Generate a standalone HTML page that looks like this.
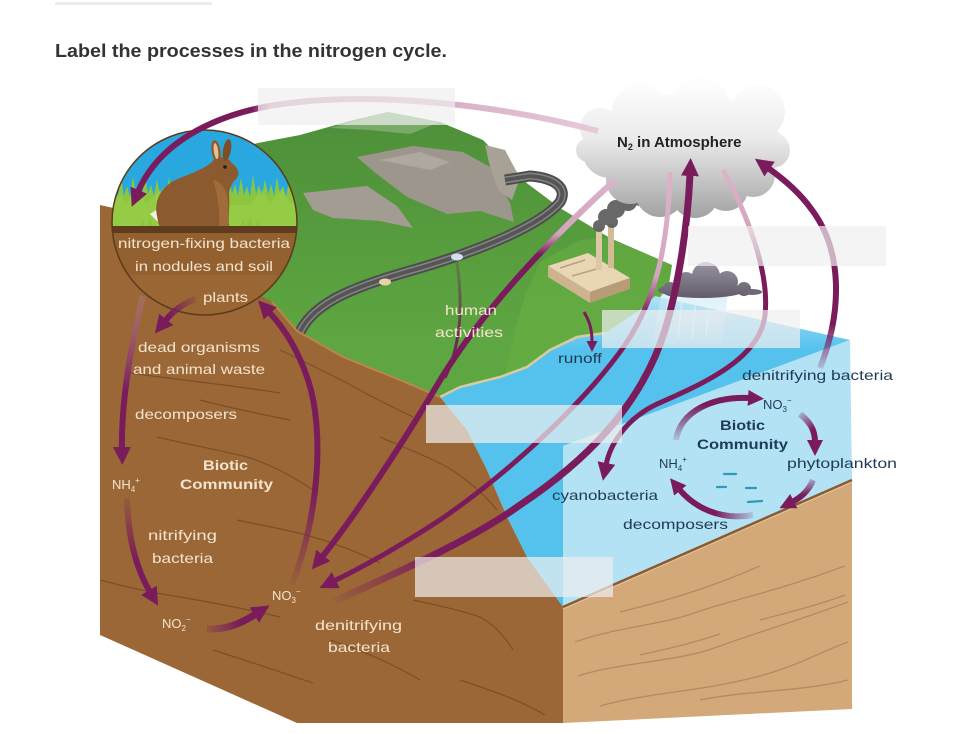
<!DOCTYPE html>
<html><head><meta charset="utf-8"><style>
html,body{margin:0;padding:0;background:#fff;}
svg{display:block;}
text{font-family:"Liberation Sans",Arial,sans-serif;}
</style></head><body>
<svg width="978" height="734" viewBox="0 0 978 734" xmlns="http://www.w3.org/2000/svg">
<defs>
 <marker id="ah" markerUnits="userSpaceOnUse" markerWidth="20" markerHeight="20" refX="2" refY="9" orient="auto"><path d="M0,0 L18,9 L0,18 Z" fill="#7a1c5c"/></marker>
 <marker id="ahm" markerUnits="userSpaceOnUse" markerWidth="18" markerHeight="18" refX="2" refY="8" orient="auto"><path d="M0,0 L16,8 L0,16 Z" fill="#7a1c5c"/></marker>
 <marker id="ahs" markerUnits="userSpaceOnUse" markerWidth="12" markerHeight="12" refX="1" refY="5.5" orient="auto"><path d="M0,0 L11,5.5 L0,11 Z" fill="#7a1c5c"/></marker>
 <clipPath id="circ"><circle cx="204.5" cy="222.5" r="92.5"/></clipPath>
 <linearGradient id="cloudG" gradientUnits="userSpaceOnUse" x1="0" y1="85" x2="0" y2="218">
  <stop offset="0" stop-color="#fdfdfd"/><stop offset="0.4" stop-color="#ebebeb"/><stop offset="1" stop-color="#a2a2a2"/>
 </linearGradient>
 <linearGradient id="rainC" gradientUnits="userSpaceOnUse" x1="0" y1="262" x2="0" y2="300">
  <stop offset="0" stop-color="#9a94a2"/><stop offset="1" stop-color="#5f5967"/>
 </linearGradient>
 <linearGradient id="rainF" gradientUnits="userSpaceOnUse" x1="0" y1="292" x2="0" y2="345">
  <stop offset="0" stop-color="#cfe9f5" stop-opacity="0.7"/><stop offset="1" stop-color="#cfe9f5" stop-opacity="0.1"/>
 </linearGradient>
 <linearGradient id="waterTop" gradientUnits="userSpaceOnUse" x1="0" y1="295" x2="0" y2="350">
  <stop offset="0" stop-color="#b3e2f5"/><stop offset="1" stop-color="#55c2ee"/>
 </linearGradient>
 <linearGradient id="hillG" gradientUnits="userSpaceOnUse" x1="0" y1="110" x2="0" y2="340">
  <stop offset="0" stop-color="#4d8f39"/><stop offset="1" stop-color="#5ea641"/>
 </linearGradient>
 <linearGradient id="g1" gradientUnits="userSpaceOnUse" x1="130" y1="0" x2="600" y2="0">
  <stop offset="0" stop-color="#7a1c5c"/><stop offset="0.26" stop-color="#7a1c5c"/><stop offset="0.3" stop-color="#c993b1"/><stop offset="1" stop-color="#e6cad9"/>
 </linearGradient>
 <linearGradient id="g2" gradientUnits="userSpaceOnUse" x1="196" y1="299" x2="170" y2="316">
  <stop offset="0" stop-color="#7a1c5c" stop-opacity="0.15"/><stop offset="1" stop-color="#7a1c5c"/>
 </linearGradient>
 <linearGradient id="g3" gradientUnits="userSpaceOnUse" x1="0" y1="296" x2="0" y2="390">
  <stop offset="0" stop-color="#b27a9a" stop-opacity="0.35"/><stop offset="1" stop-color="#7a1c5c"/>
 </linearGradient>
 <linearGradient id="g4" gradientUnits="userSpaceOnUse" x1="0" y1="498" x2="0" y2="560">
  <stop offset="0" stop-color="#7a1c5c" stop-opacity="0.15"/><stop offset="1" stop-color="#7a1c5c"/>
 </linearGradient>
 <linearGradient id="g5" gradientUnits="userSpaceOnUse" x1="207" y1="0" x2="240" y2="0">
  <stop offset="0" stop-color="#7a1c5c" stop-opacity="0.2"/><stop offset="1" stop-color="#7a1c5c"/>
 </linearGradient>
 <linearGradient id="g6" gradientUnits="userSpaceOnUse" x1="0" y1="584" x2="0" y2="490">
  <stop offset="0" stop-color="#7a1c5c" stop-opacity="0.1"/><stop offset="1" stop-color="#7a1c5c"/>
 </linearGradient>
 <linearGradient id="g7" gradientUnits="userSpaceOnUse" x1="0" y1="180" x2="0" y2="300">
  <stop offset="0" stop-color="#dcb4ca"/><stop offset="0.45" stop-color="#d2a3bd"/><stop offset="0.62" stop-color="#7a1c5c"/><stop offset="1" stop-color="#7a1c5c"/>
 </linearGradient>
 <linearGradient id="g7b" gradientUnits="userSpaceOnUse" x1="0" y1="262" x2="0" y2="340">
  <stop offset="0" stop-color="#6e3a50" stop-opacity="0.3"/><stop offset="1" stop-color="#6e2a50"/>
 </linearGradient>
 <linearGradient id="g8" gradientUnits="userSpaceOnUse" x1="0" y1="172" x2="0" y2="340">
  <stop offset="0" stop-color="#dcb4ca"/><stop offset="0.62" stop-color="#d3a6bf"/><stop offset="0.85" stop-color="#7a1c5c"/><stop offset="1" stop-color="#7a1c5c"/>
 </linearGradient>
 <linearGradient id="g9" gradientUnits="userSpaceOnUse" x1="335" y1="601" x2="440" y2="550">
  <stop offset="0" stop-color="#7a1c5c" stop-opacity="0.1"/><stop offset="1" stop-color="#7a1c5c"/>
 </linearGradient>
 <linearGradient id="g10" gradientUnits="userSpaceOnUse" x1="0" y1="170" x2="0" y2="262">
  <stop offset="0" stop-color="#dcb4ca"/><stop offset="0.6" stop-color="#d3a6bf"/><stop offset="1" stop-color="#7a1c5c"/>
 </linearGradient>
 <linearGradient id="g11" gradientUnits="userSpaceOnUse" x1="0" y1="372" x2="0" y2="325">
  <stop offset="0" stop-color="#7a1c5c" stop-opacity="0.1"/><stop offset="1" stop-color="#7a1c5c"/>
 </linearGradient>
 <linearGradient id="gb1" gradientUnits="userSpaceOnUse" x1="0" y1="442" x2="0" y2="405">
  <stop offset="0" stop-color="#7a1c5c" stop-opacity="0.1"/><stop offset="1" stop-color="#7a1c5c"/>
 </linearGradient>
 <linearGradient id="gb2" gradientUnits="userSpaceOnUse" x1="798" y1="412" x2="812" y2="430">
  <stop offset="0" stop-color="#7a1c5c" stop-opacity="0.15"/><stop offset="1" stop-color="#7a1c5c"/>
 </linearGradient>
 <linearGradient id="gb3" gradientUnits="userSpaceOnUse" x1="0" y1="476" x2="0" y2="495">
  <stop offset="0" stop-color="#7a1c5c" stop-opacity="0.15"/><stop offset="1" stop-color="#7a1c5c"/>
 </linearGradient>
 <linearGradient id="gb4" gradientUnits="userSpaceOnUse" x1="755" y1="0" x2="715" y2="0">
  <stop offset="0" stop-color="#7a1c5c" stop-opacity="0.1"/><stop offset="1" stop-color="#7a1c5c"/>
 </linearGradient>
</defs>

<rect width="978" height="734" fill="#fff"/>
<rect x="55" y="2" width="157" height="3" fill="#ececec"/>
<text x="55" y="57" font-size="18" font-weight="bold" fill="#333" textLength="392" lengthAdjust="spacingAndGlyphs">Label the processes in the nitrogen cycle.</text>

<!-- green land -->
<polygon points="230,150 258,143 300,135 350,121 388,112 440,122 483,140 520,178 560,208 610,238 672,265 668,290 640,315 605,333 577,337 550,350 527,367 500,377 460,387 440,397 400,380 343,357 300,335 270,305 230,300" fill="url(#hillG)"/>
<polygon points="330,128 388,112 440,122 410,134 370,130" fill="#8bb57c" opacity="0.7"/>
<polygon points="540,262 580,240 610,238 672,265 668,290 640,315 605,333 577,337 550,350 527,367 505,376 515,330 525,295" fill="#6cb445" opacity="0.45"/>
<!-- rocks -->
<polygon points="357,157 413,146 463,152 490,167 510,203 514,222 480,211 447,214 407,197 373,171" fill="#9d968c"/>
<polygon points="303,193 367,186 397,206 413,228 380,221 333,218 313,210" fill="#a39c92"/>
<polygon points="485,145 505,150 520,178 512,200 498,190 490,167" fill="#a8a196"/>
<polygon points="380,160 420,152 450,162 430,170" fill="#b5afa6" opacity="0.7"/>
<!-- road -->
<path d="M300,332 C315,300 360,285 420,268 C480,250 540,226 560,202 C568,188 555,178 530,176 L505,180" fill="none" stroke="#4d4d4d" stroke-width="11"/>
<path d="M300,332 C315,300 360,285 420,268 C480,250 540,226 560,202 C568,188 555,178 530,176 L505,180" fill="none" stroke="#858585" stroke-width="7"/>
<path d="M300,332 C315,300 360,285 420,268 C480,250 540,226 560,202 C568,188 555,178 530,176 L505,180" fill="none" stroke="#555" stroke-width="4"/>
<ellipse cx="385" cy="282" rx="6" ry="3.5" fill="#e8d3a8"/>
<ellipse cx="457" cy="257" rx="6" ry="3.5" fill="#cfe0ee"/>

<!-- water -->
<polygon points="440,397 460,387 500,377 527,367 550,350 577,337 605,333 640,310 655,296 850,340 563,446 563,607 527,557 507,517 487,470 467,430" fill="url(#waterTop)"/>
<polygon points="563,446 850,340 852,481 563,607" fill="#b3e2f5"/>
<path d="M440,397 L460,387 L500,377 L527,367 L550,350 L577,337 L605,333" fill="none" stroke="#d8cc9c" stroke-width="2.5"/>

<!-- factory -->
<polygon points="548,266 588,253 630,278 590,292" fill="#e8d6b4"/>
<polygon points="548,266 590,292 590,303 548,277" fill="#cdb48f"/>
<polygon points="590,292 630,278 630,289 590,303" fill="#b89c77"/>
<line x1="560" y1="268" x2="585" y2="260" stroke="#b8a27f" stroke-width="1.5"/>
<line x1="572" y1="276" x2="600" y2="268" stroke="#b8a27f" stroke-width="1.5"/>
<rect x="596" y="228" width="6" height="42" fill="#dcc8a4"/>
<rect x="608" y="224" width="6" height="44" fill="#d2bc96"/>
<!-- smoke -->
<g fill="#5c5c5c" opacity="0.92">
<circle cx="599" cy="226" r="6"/><circle cx="606" cy="217" r="8"/><circle cx="616" cy="209" r="9"/><circle cx="628" cy="202" r="9"/><circle cx="640" cy="198" r="8"/><circle cx="612" cy="222" r="6"/>
</g>
<!-- rain cloud + rain -->
<polygon points="662,292 728,292 722,345 652,345" fill="url(#rainF)"/>
<g stroke="#e4f3fa" stroke-width="1.2" opacity="0.7">
<line x1="668" y1="300" x2="664" y2="335"/><line x1="682" y1="300" x2="678" y2="338"/><line x1="696" y1="300" x2="692" y2="340"/><line x1="710" y1="300" x2="706" y2="336"/>
</g>
<g fill="url(#rainC)">
<ellipse cx="702" cy="290" rx="44" ry="8"/><circle cx="686" cy="283" r="11"/><circle cx="706" cy="276" r="14"/><circle cx="727" cy="282" r="11"/><circle cx="744" cy="289" r="7"/><circle cx="670" cy="289" r="7"/>
</g>
<ellipse cx="752" cy="292" rx="10" ry="3" fill="#6e6876"/>

<!-- right tan face -->
<polygon points="563,607 852,480 852,709 563,723" fill="#d4a979"/>
<g fill="none" stroke="#b3845a" stroke-width="1.3" opacity="0.85">
<path d="M575,642 C620,626 660,626 700,611 C740,598 780,590 845,566"/>
<path d="M578,676 C620,662 680,662 720,646 C770,628 800,620 848,602"/>
<path d="M600,706 C650,692 700,692 760,676 C800,665 820,652 848,642"/>
<path d="M620,612 C660,602 700,592 760,566"/>
<path d="M700,700 C750,690 800,692 848,680"/>
<path d="M640,655 C670,648 690,644 720,634"/>
<path d="M760,620 C790,612 815,606 845,595"/>
</g>
<line x1="563" y1="607" x2="852" y2="480" stroke="#8a5a32" stroke-width="2.5"/>
<line x1="563" y1="609" x2="852" y2="482" stroke="#e8cfa8" stroke-width="1" opacity="0.8"/>

<!-- left soil face -->
<polygon points="100,205 140,214 250,290 272,302 297,331 343,357 400,380 440,397 467,430 487,470 507,517 527,557 563,607 563,723 297,723 100,635" fill="#9b6736"/>
<path d="M272,302 L297,331 L343,357 L400,380 L440,397" fill="none" stroke="#bf834b" stroke-width="2"/>
<g fill="none" stroke="#6f4420" stroke-width="1.2" opacity="0.7">
<path d="M130,373 C180,380 230,385 280,393"/>
<path d="M157,437 C190,445 220,450 247,457 C275,466 295,478 313,490"/>
<path d="M100,580 C130,588 160,594 180,597 C215,603 250,610 280,617"/>
<path d="M237,520 C265,526 290,530 313,537 C340,545 360,553 380,563"/>
<path d="M280,350 C305,362 325,372 347,383 C370,396 392,407 413,417"/>
<path d="M380,437 C405,448 427,456 447,467 C468,480 485,495 497,510"/>
<path d="M213,650 C245,660 280,672 313,683"/>
<path d="M413,600 C440,606 460,610 480,617 C495,625 505,637 513,650"/>
<path d="M330,640 C360,650 390,662 420,680"/>
<path d="M460,680 C490,690 520,700 545,715"/>
<path d="M200,400 C230,408 260,414 290,420"/>
</g>

<!-- circle inset -->
<g clip-path="url(#circ)">
<rect x="100" y="125" width="210" height="80" fill="#29a8df"/>
<polygon points="112,230 112,200 115,184 118,198 121,178 124,196 127,186 130,197 133,176 136,195 139,183 142,197 145,175 148,194 151,185 154,196 157,179 160,195 163,187 166,197 169,177 172,194 175,184 178,196 181,176 184,195 187,186 190,197 193,178 196,194 199,183 202,196 205,175 208,195 211,185 214,197 217,179 220,195 223,187 226,196 229,176 232,194 235,184 238,196 241,178 244,195 247,186 250,197 253,175 256,194 259,185 262,196 265,179 268,195 271,184 274,196 277,177 280,194 283,186 286,197 289,180 292,195 295,186 298,198 298,230" fill="#8cc63f"/>
<polygon points="112,230 112,205 120,192 126,204 138,188 146,204 160,190 170,205 250,205 262,190 270,204 282,188 290,204 298,196 298,230" fill="#9bd04a" opacity="0.6"/>
<!-- rabbit -->
<path d="M160,227 C151,206 158,186 180,178 C195,172 205,168 212,162 C216,156 226,155 232,163 C238,168 241,174 236,179 C232,183 230,187 229,193 C230,206 228,216 229,227 Z" fill="#8b5a2e"/>
<path d="M213,180 C222,182 228,190 228,205 L228,226 L219,226 C220,210 218,195 213,180 Z" fill="#a06c3c"/>
<ellipse cx="216" cy="151" rx="4.5" ry="11" transform="rotate(-8 216 151)" fill="#8b5a2e"/>
<ellipse cx="227" cy="150" rx="4" ry="11" transform="rotate(10 227 150)" fill="#7d4f27"/>
<ellipse cx="216" cy="151" rx="2.2" ry="8" transform="rotate(-8 216 151)" fill="#e6bf97"/>
<circle cx="225" cy="167" r="1.8" fill="#2a1a0e"/>
<path d="M150,214 L156,210 L158,222 Z" fill="#f4f0e6"/>
<polygon points="140,230 143,218 146,229 150,216 153,229 240,229 243,219 246,229 250,215 253,229 258,220 262,230" fill="#8cc63f"/>
<rect x="100" y="226" width="210" height="100" fill="#93602f"/>
<rect x="100" y="226" width="210" height="7" fill="#5e3c1d"/>
<rect x="100" y="275" width="210" height="50" fill="#9d6a38" opacity="0.6"/>
</g>
<circle cx="204.5" cy="222.5" r="92.5" fill="none" stroke="#5b3b1d" stroke-width="1.5"/>

<!-- main cloud -->
<g fill="url(#cloudG)">
<ellipse cx="688" cy="142" rx="92" ry="48"/>
<circle cx="610" cy="150" r="28"/><circle cx="600" cy="128" r="20"/><circle cx="630" cy="180" r="24"/><circle cx="660" cy="192" r="25"/><circle cx="695" cy="194" r="24"/><circle cx="726" cy="189" r="22"/><circle cx="753" cy="175" r="22"/><circle cx="772" cy="150" r="18"/><circle cx="640" cy="112" r="28"/><circle cx="700" cy="108" r="30"/><circle cx="758" cy="112" r="27"/><circle cx="588" cy="150" r="12"/>
</g>

<!-- arrows -->
<g fill="none" stroke-linecap="butt">
<path d="M598,131 C500,105 380,92 290,103 C220,111 160,140 138,192" stroke="url(#g1)" stroke-width="6" marker-end="url(#ah)"/>
<path d="M196,299 Q178,305 165,321" stroke="url(#g2)" stroke-width="6" marker-end="url(#ah)"/>
<path d="M143,296 C132,340 121,400 122,449" stroke="url(#g3)" stroke-width="6" marker-end="url(#ah)"/>
<path d="M127,498 C128,540 137,570 150,592" stroke="url(#g4)" stroke-width="6" marker-end="url(#ah)"/>
<path d="M207,629 C225,630 240,624 256,614" stroke="url(#g5)" stroke-width="7" marker-end="url(#ah)"/>
<path d="M292,584 C318,520 326,430 307,377 C297,348 284,328 269,312" stroke="url(#g6)" stroke-width="6" marker-end="url(#ah)"/>
<path d="M457,262 C462,300 463,340 445,378" stroke="url(#g7b)" stroke-width="3"/>
<path d="M615,180 C560,230 490,300 442,377 C402,445 352,520 322,557" stroke="url(#g7)" stroke-width="6" marker-end="url(#ah)"/>
<path d="M670,172 C668,250 655,300 625,345 C590,395 520,465 440,520 C400,546 365,566 334,581" stroke="url(#g8)" stroke-width="5" marker-end="url(#ah)"/>
<path d="M335,601 C400,571 470,541 520,505 C580,465 640,410 665,330 C680,280 688,220 690,174" stroke="url(#g9)" stroke-width="7" marker-end="url(#ah)"/>
<path d="M723,170 C745,210 770,270 765,315 C760,360 700,385 655,405 C625,420 610,445 606,465" stroke="url(#g10)" stroke-width="5" marker-end="url(#ah)"/>
<path d="M820,368 C843,310 842,250 812,210 C800,193 785,180 768,168" stroke="url(#g11)" stroke-width="6" marker-end="url(#ah)"/>
<path d="M584,312 C590,322 592,330 592,342" stroke="#7a1c5c" stroke-width="3" marker-end="url(#ahs)"/>
<path d="M676,440 C680,412 712,396 750,398" stroke="url(#gb1)" stroke-width="6" marker-end="url(#ahm)"/>
<path d="M800,414 C810,422 815,430 815,442" stroke="url(#gb2)" stroke-width="6" marker-end="url(#ahm)"/>
<path d="M813,480 C809,490 802,497 792,502" stroke="url(#gb3)" stroke-width="6" marker-end="url(#ahm)"/>
<path d="M753,515 C720,521 694,507 679,489" stroke="url(#gb4)" stroke-width="6" marker-end="url(#ahm)"/>
</g>

<!-- fish -->
<g stroke="#2b9cb6" stroke-width="2.2" stroke-linecap="round">
<line x1="724" y1="474" x2="736" y2="474"/><line x1="717" y1="487" x2="726" y2="487"/><line x1="746" y1="488" x2="756" y2="488"/><line x1="748" y1="502" x2="762" y2="501"/>
</g>

<!-- labels: soil (cream) -->
<g fill="#f3e4cf" font-size="14">
<text x="118" y="248" textLength="172" lengthAdjust="spacingAndGlyphs">nitrogen-fixing bacteria</text>
<text x="135" y="271" textLength="138" lengthAdjust="spacingAndGlyphs">in nodules and soil</text>
<text x="203" y="302" textLength="45" lengthAdjust="spacingAndGlyphs">plants</text>
<text x="138" y="352" textLength="122" lengthAdjust="spacingAndGlyphs">dead organisms</text>
<text x="133" y="374" textLength="132" lengthAdjust="spacingAndGlyphs">and animal waste</text>
<text x="135" y="419" textLength="102" lengthAdjust="spacingAndGlyphs">decomposers</text>
<text x="203" y="470" font-weight="bold" textLength="45" lengthAdjust="spacingAndGlyphs">Biotic</text>
<text x="180" y="489" font-weight="bold" textLength="93" lengthAdjust="spacingAndGlyphs">Community</text>
<text x="112" y="489" font-size="13">NH<tspan font-size="8" dy="3">4</tspan><tspan font-size="8" dy="-9">+</tspan></text>
<text x="148" y="540" textLength="69" lengthAdjust="spacingAndGlyphs">nitrifying</text>
<text x="152" y="563" textLength="61" lengthAdjust="spacingAndGlyphs">bacteria</text>
<text x="162" y="628" font-size="13">NO<tspan font-size="8" dy="3">2</tspan><tspan font-size="8" dy="-9">−</tspan></text>
<text x="272" y="600" font-size="13">NO<tspan font-size="8" dy="3">3</tspan><tspan font-size="8" dy="-9">−</tspan></text>
<text x="315" y="630" textLength="87" lengthAdjust="spacingAndGlyphs">denitrifying</text>
<text x="328" y="652" textLength="62" lengthAdjust="spacingAndGlyphs">bacteria</text>
<text x="445" y="315" textLength="52" lengthAdjust="spacingAndGlyphs">human</text>
<text x="435" y="337" textLength="68" lengthAdjust="spacingAndGlyphs">activities</text>
</g>
<!-- labels: water (navy) -->
<g fill="#1f3a55" font-size="14">
<text x="558" y="363" textLength="44" lengthAdjust="spacingAndGlyphs">runoff</text>
<text x="742" y="380" textLength="151" lengthAdjust="spacingAndGlyphs">denitrifying bacteria</text>
<text x="763" y="409" font-size="13">NO<tspan font-size="8" dy="3">3</tspan><tspan font-size="8" dy="-9">−</tspan></text>
<text x="720" y="430" font-weight="bold" textLength="45" lengthAdjust="spacingAndGlyphs">Biotic</text>
<text x="697" y="449" font-weight="bold" textLength="91" lengthAdjust="spacingAndGlyphs">Community</text>
<text x="659" y="468" font-size="13">NH<tspan font-size="8" dy="3">4</tspan><tspan font-size="8" dy="-9">+</tspan></text>
<text x="787" y="468" textLength="110" lengthAdjust="spacingAndGlyphs">phytoplankton</text>
<text x="552" y="500" textLength="106" lengthAdjust="spacingAndGlyphs">cyanobacteria</text>
<text x="623" y="529" textLength="105" lengthAdjust="spacingAndGlyphs">decomposers</text>
</g>
<text x="617" y="147" font-size="15" font-weight="bold" fill="#222">N<tspan font-size="9" dy="3">2</tspan><tspan dy="-3"> in Atmosphere</tspan></text>

<!-- blank label boxes -->
<g fill="#f0f0f0" opacity="0.7">
<rect x="258" y="88" width="197" height="37"/>
<rect x="688" y="226" width="198" height="40"/>
<rect x="602" y="310" width="198" height="38"/>
<rect x="426" y="405" width="196" height="38"/>
<rect x="415" y="557" width="198" height="40"/>
</g>
</svg>
</body></html>
